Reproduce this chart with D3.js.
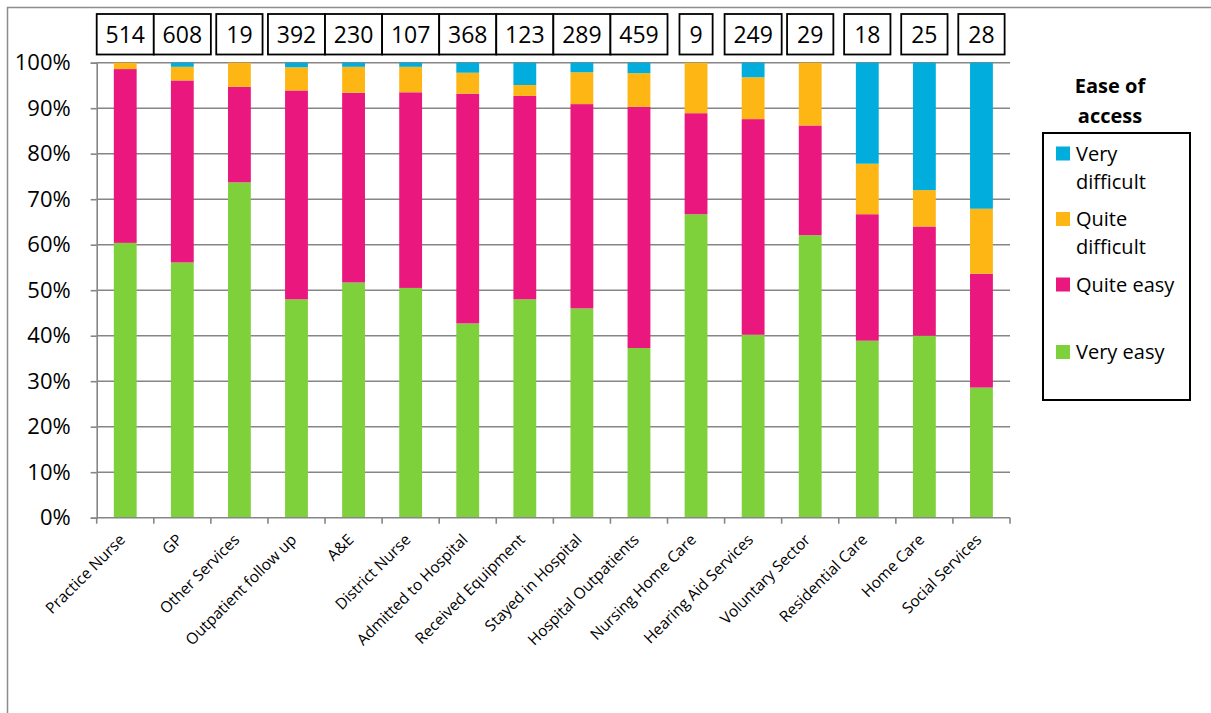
<!DOCTYPE html>
<html>
<head>
<meta charset="utf-8">
<script src="https://cdn.jsdelivr.net/npm/d3@7"></script>
<style>
  body { margin: 0; background: #fff; }
  svg { display: block; font-family: "Open Sans", "Noto Sans", sans-serif; }
</style>
</head>
<body>
<svg id="chart" width="1211" height="713"></svg>
<script>
// Services asked about, with number of respondents per service
const categories = ["Practice Nurse", "GP", "Other Services", "Outpatient follow up", "A&E",
  "District Nurse", "Admitted to Hospital", "Received Equipment", "Stayed in Hospital",
  "Hospital Outpatients", "Nursing Home Care", "Hearing Aid Services", "Voluntary Sector",
  "Residential Care", "Home Care", "Social Services"];
const respondents = [514, 608, 19, 392, 230, 107, 368, 123, 289, 459, 9, 249, 29, 18, 25, 28];

// Share of answers (%) per ease-of-access rating
const veryEasy       = [60.4, 56.1, 73.7, 48.0, 51.7, 50.5, 42.7, 48.0, 46.0, 37.3, 66.7, 40.2, 62.1, 38.9, 40.0, 28.6];
const quiteEasy      = [38.2, 40.0, 21.0, 45.9, 41.7, 43.0, 50.5, 44.7, 44.9, 53.0, 22.2, 47.4, 24.1, 27.8, 24.0, 25.0];
const quiteDifficult = [ 1.4,  3.0,  5.3,  5.1,  5.7,  5.6,  4.6,  2.4,  7.0,  7.4, 11.1,  9.2, 13.8, 11.1,  8.0, 14.3];
const veryDifficult  = [ 0.0,  0.9,  0.0,  1.0,  0.9,  0.9,  2.2,  4.9,  2.1,  2.3,  0.0,  3.2,  0.0, 22.2, 28.0, 32.1];

const seriesNames = ["Very easy", "Quite easy", "Quite difficult", "Very difficult"];
const yTicks = [0, 10, 20, 30, 40, 50, 60, 70, 80, 90, 100];

const colors = {
  "Very easy": "#7FD13B",
  "Quite easy": "#E9177E",
  "Quite difficult": "#FDB614",
  "Very difficult": "#00ADDC"
};

const rows = categories.map((c, i) => ({
  category: c,
  "Very easy": veryEasy[i],
  "Quite easy": quiteEasy[i],
  "Quite difficult": quiteDifficult[i],
  "Very difficult": veryDifficult[i]
}));

const svg = d3.select("#chart");
const plot = { left: 96.7, right: 1010, top: 62.7, bottom: 517.7 };

const x = d3.scaleBand().domain(categories).range([plot.left, plot.right])
  .paddingInner(0.6).paddingOuter(0.3);
const y = d3.scaleLinear().domain([0, 100]).range([plot.bottom, plot.top]);
const step = x.step();

// outer chart frame
svg.append("path")
  .attr("d", "M7.5,713 L7.5,7.5 L1211,7.5")
  .attr("fill", "none").attr("stroke", "#8c8c8c").attr("stroke-width", 1.5);

// gridlines
svg.append("g").selectAll("line").data(yTicks.filter(d => d > 0)).join("line")
  .attr("x1", plot.left).attr("x2", plot.right)
  .attr("y1", d => y(d)).attr("y2", d => y(d))
  .attr("stroke", "#868686").attr("stroke-width", 1.6);

// y axis
const yAxis = svg.append("g").attr("transform", `translate(${plot.left},0)`)
  .call(d3.axisLeft(y).tickValues(yTicks).tickFormat(d => d + "%").tickSize(6).tickPadding(20));
yAxis.select(".domain").attr("stroke", "#868686").attr("stroke-width", 1.6);
yAxis.selectAll(".tick line").attr("stroke", "#868686").attr("stroke-width", 1.6);
yAxis.selectAll(".tick text").attr("font-size", 22).attr("fill", "#000")
  .attr("font-family", "'Open Sans', sans-serif");

// stacked bars
const stack = d3.stack().keys(seriesNames);
const stacked = stack(rows);
svg.append("g").selectAll("g").data(stacked).join("g")
  .attr("fill", d => colors[d.key])
  .selectAll("rect").data(d => d).join("rect")
  .attr("x", d => x(d.data.category))
  .attr("width", x.bandwidth())
  .attr("y", d => y(d[1]))
  .attr("height", d => y(d[0]) - y(d[1]));

// x axis with ticks at band boundaries
const xAxisG = svg.append("g");
xAxisG.append("line")
  .attr("x1", plot.left).attr("x2", plot.right)
  .attr("y1", plot.bottom).attr("y2", plot.bottom)
  .attr("stroke", "#868686").attr("stroke-width", 1.6);
const edges = d3.range(categories.length + 1).map(i => plot.left + i * step);
xAxisG.selectAll("line.tick").data(edges).join("line")
  .attr("class", "tick")
  .attr("x1", d => d).attr("x2", d => d)
  .attr("y1", plot.bottom).attr("y2", plot.bottom + 6)
  .attr("stroke", "#868686").attr("stroke-width", 1.6);

// rotated category labels
xAxisG.selectAll("text").data(categories).join("text")
  .attr("transform", d => {
    const cx = x(d) + x.bandwidth() / 2 + 1;
    return `translate(${cx},${plot.bottom + 23}) rotate(-45)`;
  })
  .attr("text-anchor", "end")
  .attr("font-size", 15.5)
  .attr("fill", "#000")
  .text(d => d);

// respondent count boxes above each bar
const boxes = svg.append("g");
const boxTop = 14, boxH = 40.5;
respondents.forEach((n, i) => {
  const cx = x(categories[i]) + x.bandwidth() / 2;
  const g = boxes.append("g");
  const t = g.append("text")
    .attr("x", cx).attr("y", boxTop + boxH / 2 + 8.5)
    .attr("text-anchor", "middle")
    .attr("font-size", 23)
    .attr("fill", "#000")
    .text(n);
  const tw = t.node().getComputedTextLength();
  const w = Math.min(step, tw + 20);
  g.insert("rect", "text")
    .attr("x", cx - w / 2).attr("y", boxTop)
    .attr("width", w).attr("height", boxH)
    .attr("fill", "#fff").attr("stroke", "#000").attr("stroke-width", 1.8);
});

// legend
const legend = svg.append("g");
legend.append("text").attr("x", 1110).attr("y", 93)
  .attr("text-anchor", "middle").attr("font-weight", "bold").attr("font-size", 20)
  .text("Ease of");
legend.append("text").attr("x", 1110).attr("y", 123)
  .attr("text-anchor", "middle").attr("font-weight", "bold").attr("font-size", 20)
  .text("access");
legend.append("rect")
  .attr("x", 1043).attr("y", 133).attr("width", 147).attr("height", 267)
  .attr("fill", "#fff").attr("stroke", "#000").attr("stroke-width", 2);

const legendItems = [
  { key: "Very difficult", lines: ["Very", "difficult"], top: 146.5 },
  { key: "Quite difficult", lines: ["Quite", "difficult"], top: 212 },
  { key: "Quite easy", lines: ["Quite easy"], top: 277.5 },
  { key: "Very easy", lines: ["Very easy"], top: 345 }
];
legendItems.forEach(item => {
  legend.append("rect")
    .attr("x", 1056).attr("y", item.top).attr("width", 14).attr("height", 14)
    .attr("fill", colors[item.key]);
  item.lines.forEach((ln, j) => {
    legend.append("text")
      .attr("x", 1076).attr("y", item.top + 14 + j * 28)
      .attr("font-size", 20).attr("fill", "#000")
      .text(ln);
  });
});
</script>
</body>
</html>
